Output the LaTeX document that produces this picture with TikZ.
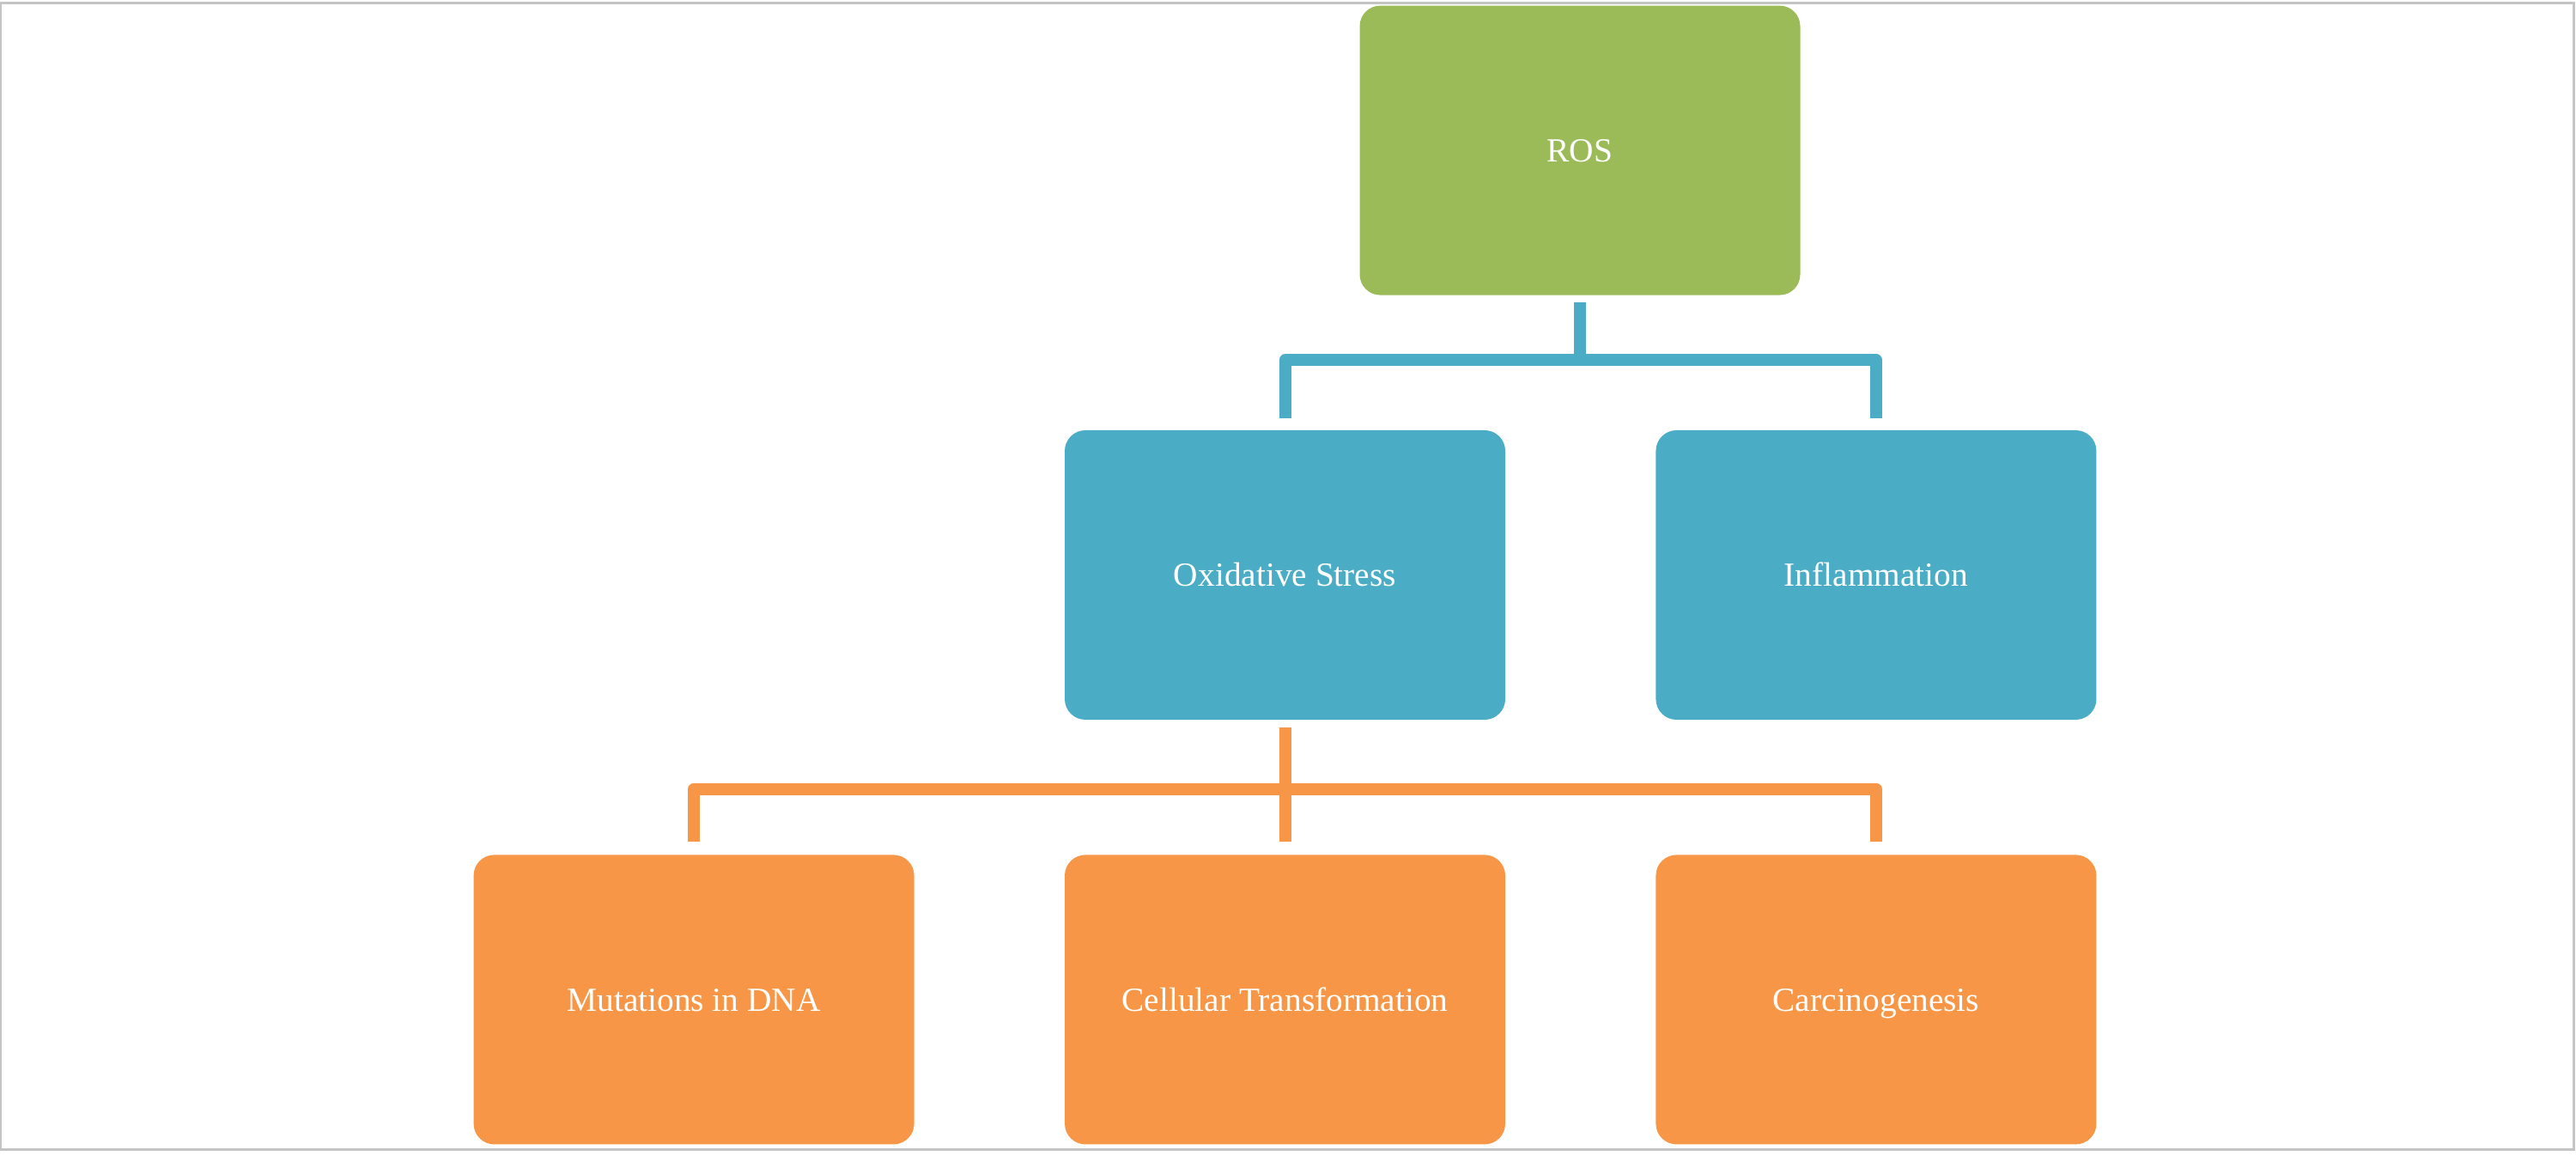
\documentclass[tikz,border=0pt]{standalone}
\usepackage{fontspec}
\setmainfont{Liberation Serif}
\usepackage{tikz}
\usetikzlibrary{shapes, arrows.meta, positioning}
\definecolor{rosColor}{HTML}{9BBB59}
\definecolor{stressColor}{HTML}{4BACC6}
\definecolor{effectColor}{HTML}{F79646}
\definecolor{frameColor}{HTML}{C4C4C4}
\tikzstyle{box} = [rectangle, rounded corners=0.24cm,
minimum width=5.13cm,
minimum height=3.37cm,
text centered,
text height=2.1ex,
text depth=0.45ex,
text=white,
font=\fontsize{11.2}{13.4}\selectfont]
\tikzstyle{rosbox} = [box, fill=rosColor]
\tikzstyle{stressbox} = [box, fill=stressColor]
\tikzstyle{effectbox} = [box, fill=effectColor]
\tikzstyle{bluelink} = [line width=0.14cm, draw=stressColor, line join=round]
\tikzstyle{orangelink} = [line width=0.14cm, draw=effectColor, line join=round]

\begin{document}
\begin{tikzpicture}[node distance=1.56cm and 1.74cm]
    \useasboundingbox (0,0) rectangle (30,-13.46);
    \draw[frameColor, line width=0.03cm] (0.01,-0.04) rectangle (29.97,-13.38);

    % Nodes
    \node[stressbox] (oxidative) at (14.965,-6.695) {Oxidative Stress};
    \node[stressbox, right=of oxidative] (inflammation) {Inflammation};
    \node[rosbox, above=of oxidative, xshift=3.435cm] (ros) {ROS};
    \node[effectbox, below=of oxidative] (cellular) {Cellular Transformation};
    \node[effectbox, left=of cellular] (mutations) {Mutations in DNA};
    \node[effectbox, right=of cellular] (carcino) {Carcinogenesis};

    % Connectors
    \draw[bluelink] ([yshift=-0.08cm]ros.south) -- ([yshift=-0.75cm]ros.south) coordinate (rosjoin);
    \draw[bluelink] ([yshift=0.13cm]oxidative.north) |- (rosjoin) -| ([yshift=0.13cm]inflammation.north);
    \draw[orangelink] ([yshift=-0.08cm]oxidative.south) -- ([yshift=0.15cm]cellular.north);
    \coordinate (oxjoin) at ([yshift=-0.8cm]oxidative.south);
    \draw[orangelink] ([yshift=0.15cm]mutations.north) |- (oxjoin) -| ([yshift=0.15cm]carcino.north);
\end{tikzpicture}
\end{document}
